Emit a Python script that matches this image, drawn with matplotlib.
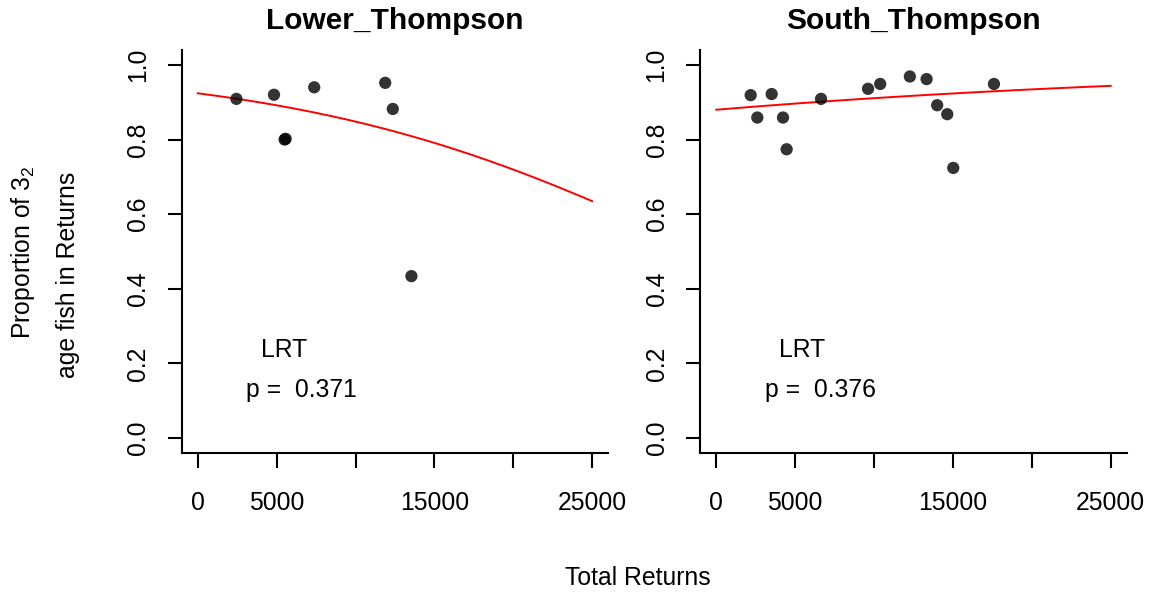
import numpy as np
import matplotlib
matplotlib.use("Agg")
import matplotlib.pyplot as plt

plt.rcParams["font.family"] = ["Liberation Sans", "DejaVu Sans"]
plt.rcParams["mathtext.fontset"] = "custom"
plt.rcParams["mathtext.rm"] = "Liberation Sans"
plt.rcParams["mathtext.it"] = "Liberation Sans:italic"

# observed returns and proportion of 3_2 fish
lower_returns = [2450, 4830, 5500, 5570, 7380, 11880, 12360, 13540]
lower_prop = [0.909, 0.920, 0.800, 0.802, 0.940, 0.952, 0.882, 0.434]

south_returns = [2180, 2600, 3510, 4230, 4460, 6640, 9620, 10390,
                 12270, 13330, 14000, 14640, 15020, 17600]
south_prop = [0.919, 0.859, 0.922, 0.859, 0.774, 0.909, 0.936, 0.949,
              0.969, 0.962, 0.892, 0.868, 0.724, 0.949]

# logistic fit coefficients (intercept, slope) and LRT p-values
lower_coef = [2.498, -7.78e-5]
south_coef = [1.992, 3.33e-5]
lower_p = "0.371"
south_p = "0.376"

xticks = [0, 5000, 10000, 15000, 20000, 25000]
xticklabels = ["0", "5000", "", "15000", "", "25000"]
yticks = [0.0, 0.2, 0.4, 0.6, 0.8, 1.0]

fig = plt.figure(figsize=(11.5, 5.92), dpi=100)
W, H = 1150, 592

panels = [
    ("Lower_Thompson", lower_returns, lower_prop, lower_coef, lower_p, 182),
    ("South_Thompson", south_returns, south_prop, south_coef, south_p, 700.5),
]

fs = 17.8
for title, xs, ys, coef, pval, left_px in panels:
    ax = fig.add_axes([left_px / W, 1 - 453 / H, 426 / W, 403 / H])
    ax.set_xlim(-1000, 26000)
    ax.set_ylim(-0.04, 1.04)
    for s in ["top", "right"]:
        ax.spines[s].set_visible(False)
    for s in ["left", "bottom"]:
        ax.spines[s].set_linewidth(1.5)

    grid = np.linspace(0, 25000, 200)
    fit = 1 / (1 + np.exp(-(coef[0] + coef[1] * grid)))
    ax.plot(grid, fit, color="red", lw=1.4, zorder=2)
    ax.scatter(xs, ys, s=78, color="black", alpha=0.8, edgecolors="none", zorder=3)

    ax.set_xticks(xticks)
    ax.set_xticklabels(xticklabels)
    ax.set_yticks(yticks)
    ax.set_yticklabels([f"{v:.1f}" for v in yticks], rotation=90, va="center")
    ax.tick_params(axis="x", length=11, width=1.5, pad=16, labelsize=fs)
    ax.tick_params(axis="y", length=10, width=1.5, pad=13, labelsize=fs)

    ax.text(5450, 0.235, "LRT", ha="center", va="center", fontsize=fs)
    ax.text(6600, 0.13, "p =  " + pval, ha="center", va="center", fontsize=fs)

    fig.text((left_px + 213) / W, 1 - 21 / H, title, ha="center", va="center",
             fontsize=21.5, fontweight="bold")

fig.text(23 / W, 1 - 252 / H, "Proportion of 3$_{\\mathregular{2}}$", rotation=90,
         ha="center", va="center", fontsize=fs)
fig.text(68 / W, 1 - 275 / H, "age fish in Returns", rotation=90,
         ha="center", va="center", fontsize=fs)
fig.text(638 / W, 1 - 578 / H, "Total Returns", ha="center", va="center", fontsize=fs)

fig.savefig("out.png", dpi=100)
